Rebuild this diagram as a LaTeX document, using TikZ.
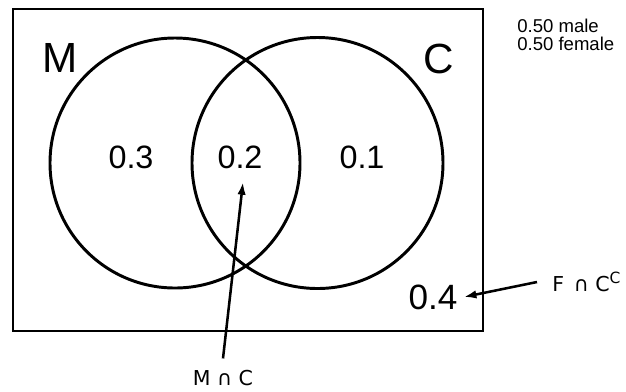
\documentclass[tikz,border=0pt]{standalone}
\usepackage{fontspec}
\setmainfont{Liberation Sans}
\newfontfamily\dejavu{DejaVu Sans}
\usetikzlibrary{arrows.meta}
\begin{document}
\begin{tikzpicture}[x=0.025cm,y=-0.025cm,
  ln/.style={line width=2.1pt},
  arr/.style={line width=1.8pt,-{Latex[length=9pt,width=6pt]}},
  big/.style={font=\fontsize{30}{30}\selectfont, inner sep=0pt},
  num/.style={font=\fontsize{23}{23}\selectfont, inner sep=0pt},
  small/.style={font=\fontsize{13.2}{12.3}\selectfont, inner sep=0pt, align=left},
  lab/.style={font=\dejavu\fontsize{14.6}{17}\selectfont}]
\useasboundingbox (0,0) rectangle (626,391);
\draw[ln] (13,9) rectangle (483,331);
\draw[ln] (175,163) circle[radius=125];
\draw[ln] (317.5,163) circle[radius=125.5];
\node[big] (M) at (60,58) {M};
\node[big] (C) at (439,59) {C};
\node[num] (v03) at (131,157) {0.3};
\node[num] (v02) at (240,157) {0.2};
\node[num] (v01) at (362,157) {0.1};
\node[num, font=\fontsize{25}{25}\selectfont, inner xsep=4.3pt] (v04) at (433,297) {0.4};
\node[small, anchor=base west] (sex) at (517,50) {0.50 male\\0.50 female};
\node[lab, anchor=west, inner xsep=10.7pt, inner ysep=0pt] (fc) at (537,282) {F\hspace{7pt}∩\hspace{4.5pt}C\raisebox{0.42em}{\fontsize{11}{11}\selectfont C}};
\node[lab, inner xsep=0pt, inner ysep=8.2pt] (mc) at (223,378) {M ∩ C};
\coordinate (mctip) at (243,182);
\draw[arr] (fc.west) -- (v04.east);
\draw[arr] (mc.north) -- (mctip);
\end{tikzpicture}
\end{document}
